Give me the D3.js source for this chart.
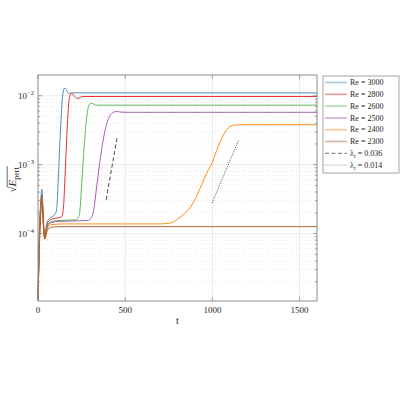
<!DOCTYPE html>
<html>
<head>
<meta charset="utf-8">
<script src="https://cdn.jsdelivr.net/npm/d3@7"></script>
<style>
  body { margin: 0; background: #fff; }
  text { font-family: "Liberation Serif", "DejaVu Serif", serif; fill: #262626; }
</style>
</head>
<body>
<svg width="400" height="400"></svg>
<script>
// curves: [t, sqrt(E_pert)]
var re3000 = [[0,1.1e-5],[4,4e-5],[10,1.5e-4],[16,3e-4],[22,4.4e-4],[28,2.5e-4],[34,1.2e-4],[40,9.5e-5],[48,1.3e-4],[60,1.6e-4],[80,1.75e-4],[100,1.95e-4],[108,2.4e-4],[114,4.5e-4],[120,1e-3],[126,2.2e-3],[132,4.5e-3],[138,8e-3],[144,1.12e-2],[150,1.27e-2],[156,1.28e-2],[164,1.2e-2],[172,1.1e-2],[180,1.08e-2],[190,1.1e-2],[1600,1.1e-2]];
var re2800 = [[0,1.1e-5],[4,3.5e-5],[10,1.3e-4],[16,2.6e-4],[22,3.6e-4],[28,2.2e-4],[34,1.1e-4],[40,9e-5],[48,1.2e-4],[60,1.5e-4],[80,1.62e-4],[110,1.68e-4],[135,1.75e-4],[145,2.2e-4],[152,4.5e-4],[158,1e-3],[164,2.2e-3],[170,4.5e-3],[177,8e-3],[184,1.02e-2],[192,1.07e-2],[200,1.05e-2],[210,9.7e-3],[222,9.2e-3],[235,9.2e-3],[250,9.7e-3],[270,9.75e-3],[1600,9.75e-3]];
var re2600 = [[0,1.1e-5],[4,3.2e-5],[10,1.2e-4],[16,2.4e-4],[22,3.4e-4],[28,2.1e-4],[34,1.05e-4],[40,8.8e-5],[48,1.15e-4],[60,1.4e-4],[80,1.5e-4],[120,1.55e-4],[215,1.58e-4],[235,1.8e-4],[243,2.6e-4],[250,5e-4],[258,1e-3],[266,2e-3],[274,3.6e-3],[282,5.5e-3],[290,7e-3],[300,7.7e-3],[310,7.8e-3],[322,7.45e-3],[340,7.3e-3],[1600,7.3e-3]];
var re2500 = [[0,1.1e-5],[4,3e-5],[10,1.1e-4],[16,2.3e-4],[22,3.2e-4],[28,2e-4],[34,1e-4],[40,8.6e-5],[48,1.1e-4],[60,1.35e-4],[80,1.45e-4],[120,1.5e-4],[290,1.55e-4],[305,1.7e-4],[318,2.1e-4],[330,3.5e-4],[343,6.5e-4],[356,1.15e-3],[370,2e-3],[384,3.1e-3],[398,4.2e-3],[412,5.1e-3],[426,5.6e-3],[440,5.85e-3],[455,5.9e-3],[470,5.8e-3],[500,5.75e-3],[1600,5.75e-3]];
var re2400 = [[0,1.1e-5],[4,2.8e-5],[10,1e-4],[16,2.2e-4],[22,3.1e-4],[28,1.9e-4],[34,9.8e-5],[40,8.5e-5],[48,1.05e-4],[60,1.28e-4],[80,1.35e-4],[150,1.38e-4],[700,1.38e-4],[760,1.42e-4],[800,1.62e-4],[840,1.95e-4],[874,2.4e-4],[900,3.1e-4],[931,4.6e-4],[950,6e-4],[970,7.8e-4],[998,1.05e-3],[1030,1.75e-3],[1065,2.75e-3],[1100,3.55e-3],[1130,3.75e-3],[1170,3.8e-3],[1600,3.8e-3]];
var re2300 = [[0,1.1e-5],[4,2.6e-5],[10,9e-5],[16,2e-4],[22,3e-4],[28,1.8e-4],[34,9.5e-5],[40,8.3e-5],[48,1e-4],[60,1.18e-4],[80,1.24e-4],[150,1.26e-4],[1600,1.26e-4]];
var lambda036 = [[391,3.1e-4],[455,2.6e-3]];
var lambda014 = [[998,2.77e-4],[1151,2.28e-3]];

var reLabels = ["Re = 3000","Re = 2800","Re = 2600","Re = 2500","Re = 2400","Re = 2300"];
var reColors = ["#377eb8","#e41a1c","#4daf4a","#984ea3","#ff7f00","#a65628"];
var xTicks = [0, 500, 1000, 1500];
var yTicks = [1e-4, 1e-3, 1e-2];

var svg = d3.select("svg"),
    margin = {top: 75, right: 83, bottom: 99, left: 38},
    width = 400 - margin.left - margin.right,
    height = 400 - margin.top - margin.bottom,
    g = svg.append("g").attr("transform", "translate(" + margin.left + "," + margin.top + ")");

var x = d3.scaleLinear().domain([0, 1600]).range([0, width]);
var y = d3.scaleLog().domain([1.05e-5, 0.02]).range([height, 0]);

// minor y values 2..9 x 10^k
var minor = [];
[-5, -4, -3, -2].forEach(function(k) {
  for (var m = 2; m <= 9; m++) {
    var v = m * Math.pow(10, k);
    if (v > 1.05e-5 && v < 0.02) minor.push(v);
  }
});

// grid
g.selectAll(".ymin").data(minor).enter().append("line")
    .attr("x1", 0).attr("x2", width)
    .attr("y1", function(d) { return y(d); }).attr("y2", function(d) { return y(d); })
    .attr("stroke", "#d6d6d6").attr("stroke-width", 0.6).attr("stroke-dasharray", "1,2");
g.selectAll(".ymaj").data(yTicks).enter().append("line")
    .attr("x1", 0).attr("x2", width)
    .attr("y1", function(d) { return y(d); }).attr("y2", function(d) { return y(d); })
    .attr("stroke", "#e3e3e3").attr("stroke-width", 0.8);
g.selectAll(".xmaj").data(xTicks.slice(1)).enter().append("line")
    .attr("x1", function(d) { return x(d); }).attr("x2", function(d) { return x(d); })
    .attr("y1", 0).attr("y2", height)
    .attr("stroke", "#e3e3e3").attr("stroke-width", 0.8);

var line = d3.line()
    .x(function(d) { return x(d[0]); })
    .y(function(d) { return y(d[1]); })
    .curve(d3.curveMonotoneX);

var series = [re3000, re2800, re2600, re2500, re2400, re2300];
series.forEach(function(s, i) {
  g.append("path")
      .datum(s)
      .attr("fill", "none")
      .attr("stroke", reColors[i])
      .attr("stroke-width", 0.9)
      .attr("stroke-linejoin", "round")
      .attr("d", line);
});

g.append("path").datum(lambda036)
    .attr("fill", "none").attr("stroke", "#333").attr("stroke-width", 0.9)
    .attr("stroke-dasharray", "4,2.5").attr("d", d3.line().x(function(d) { return x(d[0]); }).y(function(d) { return y(d[1]); }));
g.append("path").datum(lambda014)
    .attr("fill", "none").attr("stroke", "#333").attr("stroke-width", 0.9)
    .attr("stroke-dasharray", "1,1.3").attr("d", d3.line().x(function(d) { return x(d[0]); }).y(function(d) { return y(d[1]); }));

// frame
g.append("rect").attr("width", width).attr("height", height)
    .attr("fill", "none").attr("stroke", "#8c8c8c").attr("stroke-width", 1);

// ticks inward, all sides
var tk = g.append("g").attr("stroke", "#8c8c8c").attr("stroke-width", 0.8);
xTicks.forEach(function(t) {
  tk.append("line").attr("x1", x(t)).attr("x2", x(t)).attr("y1", height).attr("y2", height - 4);
  tk.append("line").attr("x1", x(t)).attr("x2", x(t)).attr("y1", 0).attr("y2", 4);
});
yTicks.forEach(function(t) {
  tk.append("line").attr("x1", 0).attr("x2", 4).attr("y1", y(t)).attr("y2", y(t));
  tk.append("line").attr("x1", width).attr("x2", width - 4).attr("y1", y(t)).attr("y2", y(t));
});
minor.forEach(function(t) {
  tk.append("line").attr("x1", 0).attr("x2", 2).attr("y1", y(t)).attr("y2", y(t));
  tk.append("line").attr("x1", width).attr("x2", width - 2).attr("y1", y(t)).attr("y2", y(t));
});

// tick labels
g.selectAll(".xl").data(xTicks).enter().append("text")
    .attr("x", function(d) { return x(d); }).attr("y", height + 12)
    .attr("text-anchor", "middle").attr("font-size", 9)
    .text(function(d) { return d; });

var yl = g.selectAll(".yl").data(yTicks).enter().append("text")
    .attr("x", -4).attr("y", function(d) { return y(d) + 3.5; })
    .attr("text-anchor", "end").attr("font-size", 9);
yl.append("tspan").text("10");
yl.append("tspan").attr("dy", -4).attr("font-size", 6.5)
    .text(function(d) { return "\u2212" + Math.round(-Math.log10(d)); });

// axis labels
g.append("text").attr("x", width / 2).attr("y", height + 23)
    .attr("text-anchor", "middle").attr("font-size", 10).text("t");

var yg = svg.append("g").attr("transform", "translate(16,180) rotate(-90)");
var yt = yg.append("text").attr("text-anchor", "middle").attr("font-size", 11);
yt.append("tspan").text("\u221A");
yt.append("tspan").attr("font-style", "italic").text("E");
yt.append("tspan").attr("dy", 2.5).attr("font-size", 8).text("pert");
var bb = yt.node().getBBox();
var sq = yt.node().getSubStringLength(0, 1);
yg.append("line")
    .attr("x1", bb.x + sq - 0.5).attr("x2", bb.x + bb.width + 0.5)
    .attr("y1", bb.y + 1.2).attr("y2", bb.y + 1.2)
    .attr("stroke", "#262626").attr("stroke-width", 0.7);

// legend
var lg = svg.append("g").attr("transform", "translate(323,76)");
lg.append("rect").attr("width", 76).attr("height", 97)
    .attr("fill", "#fff").attr("stroke", "#8c8c8c").attr("stroke-width", 0.8);
var items = reLabels.map(function(l, i) { return {label: l, color: reColors[i], dash: null, op: 0.45, w: 1.6}; });
items.push({label: "\u03BB", sub: "r", val: " = 0.036", color: "#333", dash: "4,2.5", op: 0.8, w: 0.9});
items.push({label: "\u03BB", sub: "r", val: " = 0.014", color: "#333", dash: "1,1.3", op: 0.6, w: 0.9});
items.forEach(function(d, i) {
  var yy = 6.5 + i * 11.8;
  lg.append("line").attr("x1", 2).attr("x2", 24).attr("y1", yy).attr("y2", yy)
      .attr("stroke", d.color).attr("stroke-opacity", d.op).attr("stroke-width", d.w)
      .attr("stroke-dasharray", d.dash);
  var tx = lg.append("text").attr("x", 27).attr("y", yy + 2.7).attr("font-size", 8);
  tx.append("tspan").text(d.label);
  if (d.sub) {
    tx.append("tspan").attr("dy", 1.8).attr("font-size", 5.5).text(d.sub);
    tx.append("tspan").attr("dy", -1.8).text(d.val);
  }
});
</script>
</body>
</html>
